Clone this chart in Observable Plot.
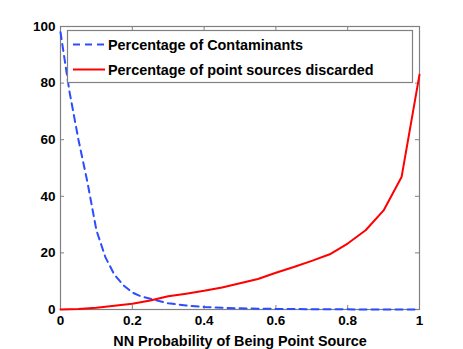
<!DOCTYPE html>
<html>
<head>
<meta charset="utf-8">
<script src="https://cdn.jsdelivr.net/npm/d3@7"></script>
<script src="https://cdn.jsdelivr.net/npm/@observablehq/plot@0.6"></script>
<style>
  html, body { margin: 0; padding: 0; background: #fff; }
  #chart { position: relative; width: 463px; height: 349px; }
</style>
</head>
<body>
<div id="chart"></div>
<script>
// Series 1: Percentage of Contaminants (blue dashed)
const contamX = [0, 0.025, 0.05, 0.075, 0.1, 0.125, 0.15, 0.175, 0.2, 0.225, 0.25,
                 0.3, 0.35, 0.4, 0.45, 0.5, 0.55, 0.6, 0.65, 0.7, 0.75, 0.8, 0.85, 0.9, 0.95, 1];
const contamPct = [98, 77, 60, 45, 28, 18.5, 12.3, 8.6, 6, 4.6, 3.8,
                   2.2, 1.4, 0.9, 0.6, 0.4, 0.3, 0.2, 0.15, 0.1, 0.1, 0.05, 0, 0, 0, 0];
// Series 2: Percentage of point sources discarded (red solid)
const pointX = [0, 0.05, 0.1, 0.15, 0.2, 0.25, 0.3, 0.35, 0.4, 0.45, 0.5,
                0.55, 0.6, 0.65, 0.7, 0.75, 0.8, 0.85, 0.9, 0.95, 1];
const discardPct = [0, 0.2, 0.6, 1.3, 2.0, 3.2, 4.7, 5.6, 6.6, 7.8, 9.3,
                    10.8, 13, 15, 17.2, 19.5, 23.3, 28, 35, 46.8, 83];
// Axis ticks and labels
const xTicks = [0, 0.2, 0.4, 0.6, 0.8, 1];
const yTicks = [0, 20, 40, 60, 80, 100];
const xLabel = "NN Probability of Being Point Source";
const seriesNames = ["Percentage of Contaminants", "Percentage of point sources discarded"];
const seriesColors = ["#2b4cff", "#ff0000"];
const seriesDash = ["7,5", "none"];

const contam = contamX.map((x, i) => ({x, y: contamPct[i]}));
const discard = pointX.map((x, i) => ({x, y: discardPct[i]}));

const W = 463, H = 349, mL = 60, mR = 44, mT = 26, mB = 40;
const innerW = W - mL - mR, innerH = H - mT - mB, tk = 4;
const axisColor = "#808080";
const font = "'Liberation Sans', Arial, sans-serif";
const plot = Plot.plot({
  width: W,
  height: H,
  marginLeft: mL,
  marginRight: mR,
  marginTop: mT,
  marginBottom: mB,
  style: {fontFamily: font, fontSize: "13.5px", fontWeight: "bold", color: "#000", background: "#fff"},
  x: {domain: [0, 1]},
  y: {domain: [0, 100]},
  marks: [
    // inward ticks on all four sides (MATLAB style)
    Plot.ruleX(xTicks, {stroke: axisColor, insetTop: innerH - tk}),
    Plot.ruleX(xTicks, {stroke: axisColor, insetBottom: innerH - tk}),
    Plot.ruleY(yTicks, {stroke: axisColor, insetRight: innerW - tk}),
    Plot.ruleY(yTicks, {stroke: axisColor, insetLeft: innerW - tk}),
    Plot.frame({stroke: axisColor, strokeWidth: 1.2}),
    Plot.axisX(xTicks, {anchor: "bottom", tickSize: 0, tickPadding: 6, fill: "#000", tickFormat: d => String(d), label: xLabel, labelAnchor: "center", labelArrow: "none", labelOffset: 36}),
    Plot.axisY(yTicks, {anchor: "left", tickSize: 0, tickPadding: 5, fill: "#000", tickFormat: d => String(d), label: null}),
    Plot.line(contam, {x: "x", y: "y", stroke: seriesColors[0], strokeWidth: 2, strokeDasharray: seriesDash[0]}),
    Plot.line(discard, {x: "x", y: "y", stroke: seriesColors[1], strokeWidth: 2})
  ]
});
document.getElementById("chart").appendChild(plot);
// enlarge the axis title slightly like the reference
d3.select(plot).selectAll("g[aria-label='x-axis label'] text").attr("font-size", 14.4);

// Legend inside plot area (upper right), drawn into the SVG
const svg = d3.select(plot);
const lg = svg.append("g")
  .attr("font-family", font)
  .attr("font-size", 14.4).attr("font-weight", "bold").attr("text-anchor", "start");
lg.append("rect").attr("x", 67.5).attr("y", 30.5).attr("width", 345).attr("height", 52)
  .attr("fill", "#fff").attr("stroke", axisColor).attr("stroke-width", 1.2);
seriesNames.forEach((name, i) => {
  const cy = 44.5 + i * 25;
  lg.append("path").attr("d", `M73,${cy}H105`).attr("fill", "none")
    .attr("stroke", seriesColors[i]).attr("stroke-width", 2)
    .attr("stroke-dasharray", seriesDash[i]);
  lg.append("text").attr("x", 108).attr("y", cy).attr("dy", "0.36em")
    .attr("text-anchor", "start").attr("fill", "#000").text(name);
});
</script>
</body>
</html>
